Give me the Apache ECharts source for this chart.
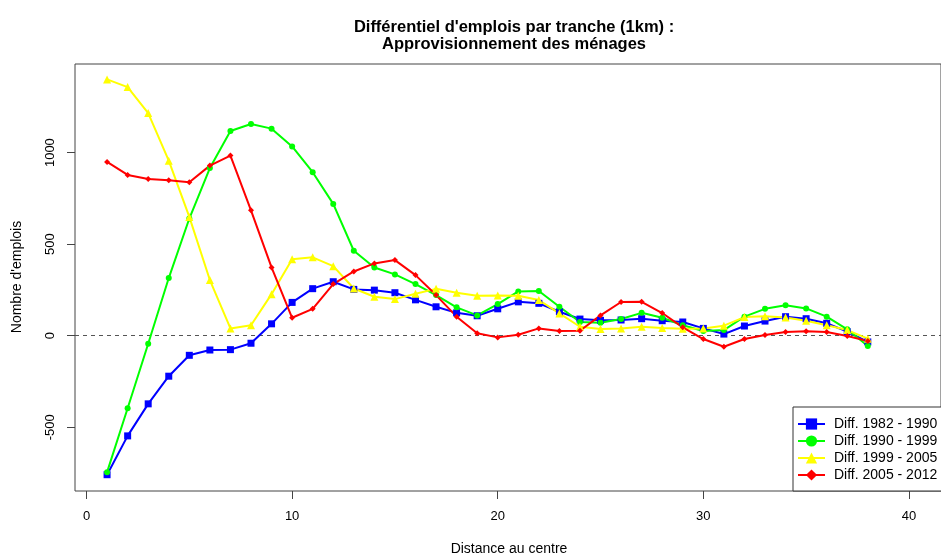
<!DOCTYPE html>
<html>
<head>
<meta charset="utf-8">
<script src="https://cdn.jsdelivr.net/npm/echarts@6/dist/echarts.min.js"></script>
<style>
html,body{margin:0;padding:0;background:#fff;}
#chart{width:941px;height:557px;}
</style>
</head>
<body>
<div id="chart"></div>
<script>
const distances = [1,2,3,4,5,6,7,8,9,10,11,12,13,14,15,16,17,18,19,20,21,22,23,24,25,26,27,28,29,30,31,32,33,34,35,36,37,38];
const diff1982_1990 = [-759,-547,-372,-221,-107,-78,-76,-41,65,182,257,295,253,249,235,196,158,125,109,147,185,177,131,91,84,86,93,82,75,40,9,53,80,104,93,68,22,-34];
const diff1990_1999 = [-745,-396,-44,315,640,916,1118,1156,1131,1034,893,720,464,373,335,282,222,155,111,173,242,244,158,75,71,91,125,98,57,26,31,104,147,167,149,104,35,-56];
const diff1999_2005 = [1400,1358,1216,956,649,304,40,57,227,418,428,380,258,213,200,229,256,235,218,220,218,195,122,49,37,40,49,42,38,40,55,102,106,100,82,57,31,-16];
const diff2005_2012 = [949,878,856,849,838,929,984,685,373,98,147,282,351,395,413,331,222,104,13,-9,5,40,26,27,111,184,185,124,46,-18,-60,-18,4,20,24,20,-2,-29];
const seriesNames = ['Diff. 1982 - 1990','Diff. 1990 - 1999','Diff. 1999 - 2005','Diff. 2005 - 2012'];
const xTicks = [0,10,20,30,40];
const yTicks = [-500,0,500,1000];

const font = '"Liberation Sans", Arial, sans-serif';
const pairs = arr => arr.map((v,i)=>[distances[i], v]);
const specs = [
  {data: diff1982_1990, color:'#0000FF', symbol:'rect', size:7},
  {data: diff1990_1999, color:'#00FF00', symbol:'circle', size:6},
  {data: diff1999_2005, color:'#FFFF00', symbol:'triangle', size:8},
  {data: diff2005_2012, color:'#FF0000', symbol:'diamond', size:6}
];
const series = specs.map((s,k)=>({
  name: seriesNames[k],
  type:'line',
  data: pairs(s.data),
  symbol: s.symbol,
  symbolSize: s.size,
  showSymbol:true,
  lineStyle:{color:s.color,width:2},
  itemStyle:{color:s.color},
  animation:false,
  z: 3
}));
series[0].markLine = {
  silent:true, symbol:'none', animation:false,
  label:{show:false},
  lineStyle:{color:'#555',type:[4,4],width:1},
  data:[{yAxis:0}],
  z:1
};

const chart = echarts.init(document.getElementById('chart'), null, {renderer:'canvas'});
chart.setOption({
  backgroundColor:'#fff',
  animation:false,
  title:{
    text:"Différentiel d'emplois par tranche (1km) :\nApprovisionnement des ménages",
    left:509, top:14, textAlign:'center',
    textStyle:{fontFamily:font,fontSize:16.5,fontWeight:'bold',color:'#000',lineHeight:17}
  },
  grid:{left:75, top:64, width:869, height:427, show:true, borderColor:'#444', borderWidth:1, backgroundColor:'transparent'},
  xAxis:{
    type:'value', min:-0.56, max:41.56,
    splitLine:{show:false},
    axisLine:{show:false, onZero:false},
    axisTick:{show:true, length:8, inside:false, lineStyle:{color:'#444'}, customValues:xTicks},
    axisLabel:{margin:19, fontFamily:font, fontSize:13, color:'#000', customValues:xTicks, formatter:v=>String(v)}
  },
  yAxis:{
    type:'value', min:-848, max:1484,
    splitLine:{show:false},
    axisLine:{show:false, onZero:false},
    axisTick:{show:true, length:8, inside:false, lineStyle:{color:'#444'}, customValues:yTicks},
    axisLabel:{margin:18, rotate:90, fontFamily:font, fontSize:13, color:'#000', customValues:yTicks, formatter:v=>String(v)}
  },
  legend:{
    orient:'vertical', left:793, top:407,
    padding:[10,20,9,4],
    itemWidth:27, itemHeight:14, itemGap:3,
    backgroundColor:'#fff', borderColor:'#333', borderWidth:1,
    textStyle:{fontFamily:font,fontSize:14,color:'#000',padding:[0,0,0,4]},
    data:seriesNames
  },
  graphic:[
    {type:'text', x:509, y:549, style:{text:'Distance au centre', font:'14px "Liberation Sans", Arial, sans-serif', fill:'#000', align:'center', verticalAlign:'middle'}},
    {type:'text', x:17, y:277, rotation:Math.PI/2, style:{text:"Nombre d'emplois", font:'14px "Liberation Sans", Arial, sans-serif', fill:'#000', align:'center', verticalAlign:'middle'}}
  ],
  series: series
});
</script>
</body>
</html>
